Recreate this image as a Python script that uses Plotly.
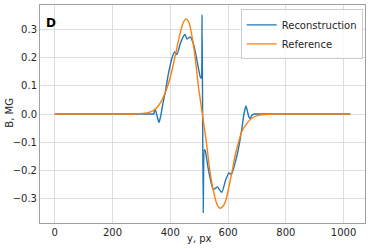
import plotly.graph_objects as go

# Reference curve
ref_y = [0, 100, 200, 250, 280, 300, 320, 340, 355, 370, 385, 400, 415, 430, 442, 453,
         464, 474, 486, 497, 504, 511, 518, 525, 537, 549, 561, 572, 583, 591, 602,
         614, 625, 637, 648, 666, 683, 705, 740, 780, 850, 950, 1023]
ref_b = [0, 0, 0, 0, 0.001, 0.002, 0.004, 0.011, 0.024, 0.047, 0.082, 0.13, 0.196,
         0.267, 0.315, 0.336, 0.325, 0.28, 0.2, 0.1, 0.05, 0, -0.05, -0.1, -0.2, -0.27,
         -0.317, -0.333, -0.325, -0.309, -0.262, -0.203, -0.144, -0.097, -0.061,
         -0.032, -0.014, -0.005, -0.001, 0, 0, 0, 0]

# Reconstruction curve
rec_y = [0, 100, 200, 300, 330, 340, 343, 347, 350, 356, 361, 365, 369, 375, 383, 394,
         406, 415, 423, 435, 446, 451, 458, 469, 481, 493, 504, 507, 510, 514, 518, 521,
         532, 549, 563, 578, 592, 603, 612, 630, 640, 648, 655, 662, 667, 672, 677, 682,
         690, 700, 750, 850, 950, 1023]
rec_b = [0, 0, 0, 0, 0, 0, 0, 0.018, 0.01, -0.015, -0.03, -0.015, 0.005, 0.04, 0.08,
         0.145, 0.198, 0.219, 0.21, 0.25, 0.275, 0.281, 0.265, 0.272, 0.245, 0.186, 0.13,
         0.127, 0.351, -0.35, -0.126, -0.13, -0.197, -0.267, -0.258, -0.277, -0.232,
         -0.208, -0.213, -0.15, -0.1, -0.05, 0.0, 0.028, 0.01, -0.01, -0.016, -0.005,
         0, 0, 0, 0, 0, 0]

x_ticks = [0, 200, 400, 600, 800, 1000]
y_ticks = [-0.3, -0.2, -0.1, 0.0, 0.1, 0.2, 0.3]

FONT = "DejaVu Sans"
TXT = "#262626"
fig = go.Figure()
fig.add_trace(go.Scatter(x=rec_y, y=rec_b, mode="lines", name="Reconstruction",
                         line=dict(color="#1f77b4", width=1.4, shape="spline", smoothing=0.5)))
fig.add_trace(go.Scatter(x=ref_y, y=ref_b, mode="lines", name="Reference",
                         line=dict(color="#ff7f0e", width=1.4, shape="spline", smoothing=0.8)))

axis_common = dict(showgrid=True, gridcolor="#dddddd", gridwidth=1, zeroline=False,
                   showline=True, linecolor="#a0a0a0", linewidth=1, mirror=True,
                   ticks="", automargin=False,
                   tickfont=dict(family=FONT, size=10, color=TXT))
fig.update_xaxes(range=[-51.15, 1074.15], tickvals=x_ticks, **axis_common)
fig.update_yaxes(range=[-0.385, 0.385], tickvals=y_ticks, tickformat=".1f", **axis_common)

fig.add_annotation(x=0.012, y=0.96, xref="paper", yref="paper", xanchor="left", yanchor="top",
                   text="<b>D</b>", showarrow=False, font=dict(family=FONT, size=12, color="black"))
fig.add_annotation(x=0.49, y=-0.073, xref="paper", yref="paper", xanchor="center", yanchor="middle",
                   text="y, px", showarrow=False, font=dict(family=FONT, size=10, color=TXT))
fig.add_annotation(x=-0.093, y=0.505, xref="paper", yref="paper", xanchor="center", yanchor="middle",
                   text="B, MG", textangle=-90, showarrow=False,
                   font=dict(family=FONT, size=10, color=TXT))

fig.update_layout(
    width=374, height=249,
    margin=dict(l=40, r=9, t=5, b=26),
    paper_bgcolor="white", plot_bgcolor="white",
    font=dict(family=FONT, size=10, color=TXT),
    showlegend=True,
    legend=dict(x=0.993, y=0.98, xanchor="right", yanchor="top",
                bgcolor="rgba(255,255,255,0.8)", bordercolor="#cccccc", borderwidth=1,
                font=dict(family=FONT, size=10, color=TXT),
                itemwidth=30, tracegroupgap=0),
)

fig.write_html("out.html", config={"displayModeBar": False},
               post_script="document.body.style.margin='0';document.body.style.overflow='hidden';")
